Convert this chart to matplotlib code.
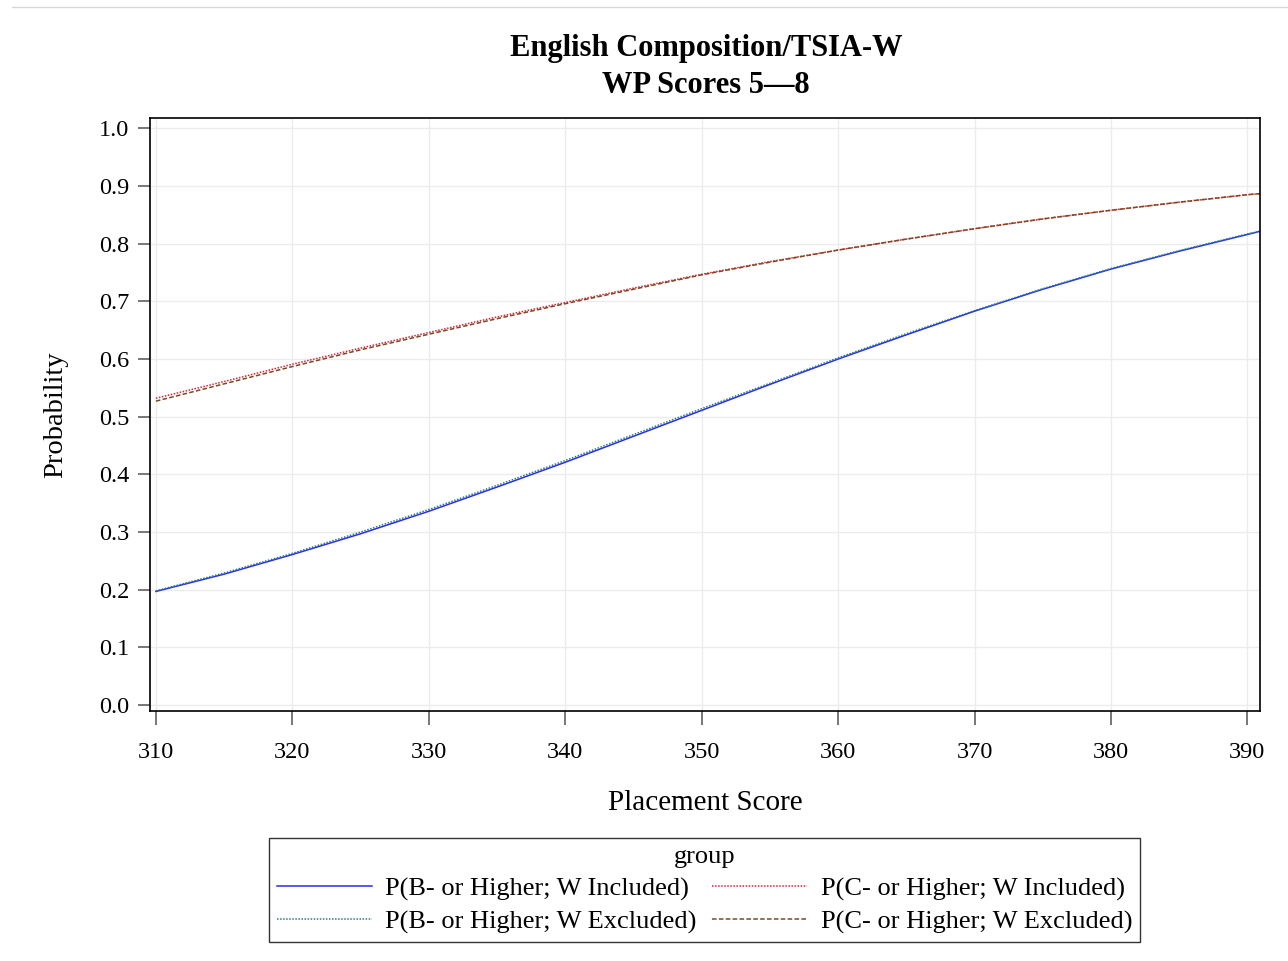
import matplotlib
matplotlib.use("Agg")
import matplotlib.pyplot as plt
from matplotlib.lines import Line2D

plt.rcParams["font.family"] = ["Liberation Serif", "DejaVu Serif"]

# Valores (probabilidad vs puntaje)
score = [310, 315, 320, 325, 330, 335, 340, 345, 350, 355, 360, 365, 370, 375, 380, 385, 390, 391]
b_incl = [0.197, 0.227, 0.261, 0.297, 0.336, 0.378, 0.421, 0.466, 0.511, 0.556, 0.600, 0.642,
          0.683, 0.721, 0.756, 0.787, 0.816, 0.822]
b_excl = [0.198, 0.229, 0.263, 0.300, 0.339, 0.381, 0.424, 0.469, 0.514, 0.558, 0.602, 0.644,
          0.684, 0.722, 0.757, 0.788, 0.817, 0.822]
c_incl = [0.532, 0.561, 0.591, 0.619, 0.646, 0.673, 0.698, 0.723, 0.747, 0.769, 0.789, 0.808,
          0.826, 0.843, 0.858, 0.872, 0.885, 0.887]
c_excl = [0.527, 0.557, 0.587, 0.616, 0.643, 0.670, 0.696, 0.721, 0.746, 0.768, 0.789, 0.808,
          0.826, 0.843, 0.858, 0.872, 0.885, 0.887]

etiquetas = ["P(B- or Higher; W Included)", "P(B- or Higher; W Excluded)",
             "P(C- or Higher; W Included)", "P(C- or Higher; W Excluded)"]
yticks = [0.0, 0.1, 0.2, 0.3, 0.4, 0.5, 0.6, 0.7, 0.8, 0.9, 1.0]
xticks = [310, 320, 330, 340, 350, 360, 370, 380, 390]

fig = plt.figure(figsize=(12.88, 9.61), dpi=100)
ax = fig.add_axes([0.1165, 0.2601, 0.8615, 0.6171])

ax.plot(score, b_incl, color="#2b2bf0", lw=1.1, ls="-", label=etiquetas[0])
ax.plot(score, b_excl, color="#2a8080", lw=1.1, ls=(0, (1, 1)), label=etiquetas[1])
ax.plot(score, c_incl, color="#e0203a", lw=1.1, ls=(0, (1, 1)), label=etiquetas[2])
ax.plot(score, c_excl, color="#7a4a20", lw=1.1, ls=(0, (3, 1.5)), label=etiquetas[3])

ax.set_xlim(309.57, 390.9)
ax.set_ylim(-0.0104, 1.018)
ax.set_xticks(xticks)
ax.set_yticks(yticks)
ax.set_yticklabels([f"{v:.1f}" for v in yticks])
ax.tick_params(direction="out", width=1.2, labelsize=17.5, color="#606060")
ax.tick_params(axis="x", length=10, pad=12)
ax.tick_params(axis="y", length=9, pad=6)
ax.grid(True, color="#ececec", lw=1)
ax.set_axisbelow(True)
for s in ax.spines.values():
    s.set_linewidth(1.2)

ax.set_xlabel("Placement Score", fontsize=21, labelpad=20)
ax.set_ylabel("Probability", fontsize=20.5, labelpad=22)

fig.text(0.548, 0.950, "English Composition/TSIA-W", ha="center", va="center",
         fontsize=22, fontweight="bold")
fig.text(0.548, 0.911, "WP Scores 5\u20148", ha="center", va="center",
         fontsize=22, fontweight="bold")

# linea gris superior
fig.add_artist(Line2D([0.009, 1.0], [0.9927, 0.9927], color="#d8d8d8", lw=1))

leg = fig.legend(loc="center", bbox_to_anchor=(0.547, 0.074), ncol=2, fontsize=19,
                 title="group", title_fontsize=19, frameon=True, fancybox=False,
                 edgecolor="black", handlelength=3.6, columnspacing=0.6,
                 handletextpad=0.5, labelspacing=0.35, borderpad=0.3)
leg.get_frame().set_linewidth(1.0)

fig.savefig("out.png", dpi=100)
